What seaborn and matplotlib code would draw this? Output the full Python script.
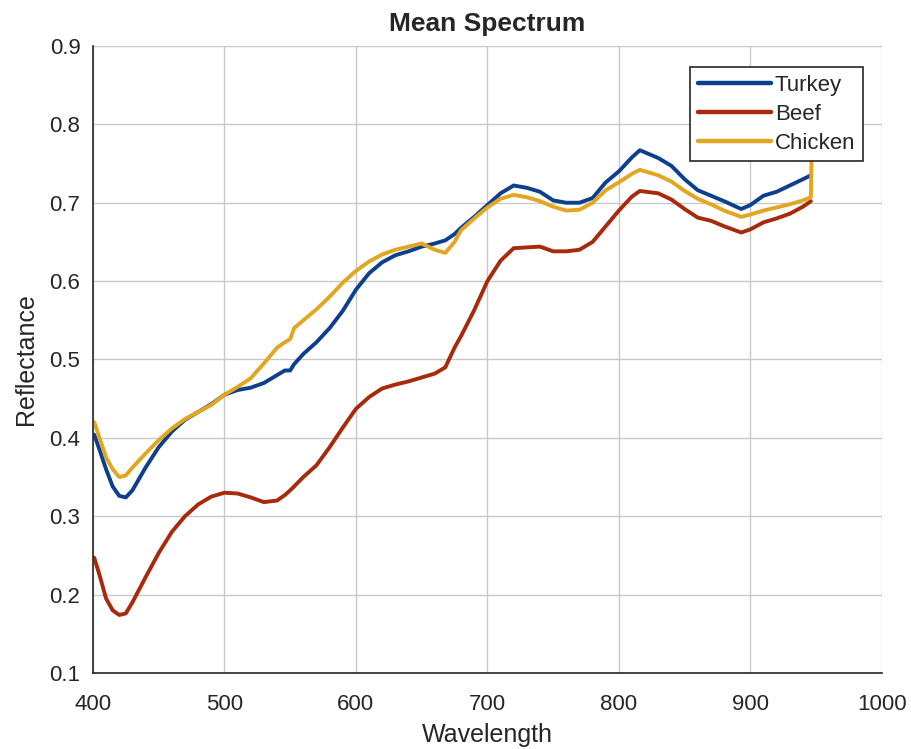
import pandas as pd
import seaborn as sns
from matplotlib import pyplot as plt

# wavelengths (nm) and mean reflectance
wavelength = [401, 405, 410, 415, 420, 425, 430, 440, 450, 460, 470, 480, 490, 500,
              510, 520, 530, 540, 546, 550, 553, 560, 570, 580, 590, 600, 610, 620,
              630, 640, 650, 660, 668, 675, 680, 690, 700, 710, 720, 730, 740, 750,
              760, 770, 780, 790, 800, 810, 816, 830, 840, 850, 860, 870, 880, 893,
              900, 910, 920, 930, 940, 946]

turkey = [0.404, 0.385, 0.360, 0.338, 0.326, 0.324, 0.333, 0.362, 0.388, 0.408, 0.423,
          0.433, 0.443, 0.455, 0.461, 0.464, 0.470, 0.480, 0.486, 0.486, 0.494, 0.507,
          0.522, 0.540, 0.562, 0.589, 0.610, 0.624, 0.633, 0.638, 0.644, 0.648, 0.652,
          0.660, 0.668, 0.682, 0.697, 0.712, 0.722, 0.719, 0.714, 0.703, 0.700, 0.700,
          0.706, 0.726, 0.740, 0.758, 0.767, 0.757, 0.747, 0.730, 0.716, 0.709, 0.702,
          0.692, 0.697, 0.709, 0.714, 0.722, 0.730, 0.735]

beef = [0.247, 0.225, 0.195, 0.180, 0.174, 0.176, 0.190, 0.222, 0.253, 0.280, 0.300,
        0.315, 0.325, 0.330, 0.329, 0.324, 0.318, 0.320, 0.327, 0.333, 0.338, 0.350,
        0.365, 0.388, 0.413, 0.437, 0.452, 0.463, 0.468, 0.472, 0.477, 0.482, 0.490,
        0.515, 0.530, 0.563, 0.600, 0.626, 0.642, 0.643, 0.644, 0.638, 0.638, 0.640,
        0.650, 0.670, 0.690, 0.708, 0.715, 0.712, 0.704, 0.692, 0.681, 0.677, 0.670,
        0.662, 0.666, 0.675, 0.680, 0.686, 0.695, 0.702]

chicken = [0.420, 0.400, 0.375, 0.360, 0.350, 0.352, 0.362, 0.380, 0.397, 0.412, 0.424,
           0.433, 0.442, 0.455, 0.465, 0.476, 0.495, 0.515, 0.522, 0.526, 0.540, 0.550,
           0.564, 0.580, 0.598, 0.613, 0.625, 0.634, 0.640, 0.644, 0.648, 0.640, 0.636,
           0.650, 0.665, 0.680, 0.694, 0.705, 0.710, 0.707, 0.702, 0.695, 0.690, 0.691,
           0.700, 0.716, 0.726, 0.737, 0.742, 0.735, 0.727, 0.715, 0.705, 0.698, 0.690,
           0.682, 0.685, 0.690, 0.694, 0.698, 0.703, 0.707]

# chicken spectrum jumps up at the last band
chicken_end_wl = [947]
chicken_end = [0.80]

df = pd.concat([
    pd.DataFrame({'Wavelength': wavelength, 'Reflectance': turkey, 'Meat': 'Turkey'}),
    pd.DataFrame({'Wavelength': wavelength, 'Reflectance': beef, 'Meat': 'Beef'}),
    pd.DataFrame({'Wavelength': wavelength + chicken_end_wl,
                  'Reflectance': chicken + chicken_end, 'Meat': 'Chicken'}),
], ignore_index=True)

colors = {'Turkey': '#0c3f8e', 'Beef': '#a82a0c', 'Chicken': '#e2a620'}

sns.set_style('white')
plt.rcParams['font.family'] = ['Liberation Sans', 'DejaVu Sans']

fig = plt.figure(figsize=(9.11, 7.49), dpi=100)
ax = fig.add_axes([0.102, 0.1015, 0.866, 0.8371])

sns.lineplot(data=df, x='Wavelength', y='Reflectance', hue='Meat', palette=colors,
             linewidth=2.8, sort=False, estimator=None, ax=ax)

ax.set_xlim(400, 1000)
ax.set_ylim(0.1, 0.9)
ax.set_xticks(range(400, 1001, 100))
ax.set_yticks([0.1, 0.2, 0.3, 0.4, 0.5, 0.6, 0.7, 0.8, 0.9])
ax.set_yticklabels(['0.1', '0.2', '0.3', '0.4', '0.5', '0.6', '0.7', '0.8', '0.9'])
ax.grid(True, color='#c8c8c8', linewidth=1.0)
ax.set_axisbelow(True)

for side in ['top', 'right']:
    ax.spines[side].set_visible(False)
for side in ['left', 'bottom']:
    ax.spines[side].set_color('#262626')
    ax.spines[side].set_linewidth(1.2)

ax.tick_params(direction='in', length=6, width=1.2, colors='#262626',
               labelsize=16, labelcolor='#262626')
ax.tick_params(axis='x', pad=15)
ax.tick_params(axis='y', pad=9)

ax.set_xlabel('Wavelength', fontsize=18, color='#262626', labelpad=6)
ax.set_ylabel('Reflectance', fontsize=18, color='#262626', labelpad=8)
ax.set_title('Mean Spectrum', fontsize=19, fontweight='bold', pad=11)

leg = ax.legend(title=None, loc='upper right', bbox_to_anchor=(0.976, 0.966),
                fontsize=16, frameon=True, fancybox=False, framealpha=1,
                edgecolor='#262626', handlelength=3.3, handletextpad=0.15,
                borderpad=0.35, labelspacing=0.35, borderaxespad=0)
leg.get_frame().set_linewidth(1.2)
for line in leg.get_lines():
    line.set_linewidth(3.2)

fig.savefig('out.png', dpi=100)
